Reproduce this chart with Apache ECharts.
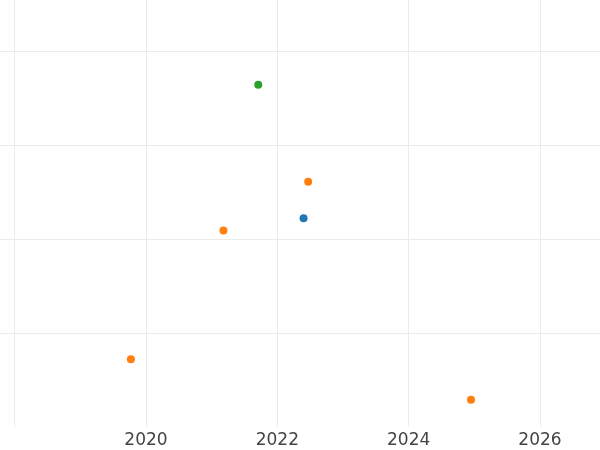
<!DOCTYPE html>
<html>
<head>
<meta charset="utf-8">
<script src="https://cdn.jsdelivr.net/npm/echarts@6/dist/echarts.min.js"></script>
<style>html,body{margin:0;padding:0;background:#fff}#c{width:600px;height:450px}</style>
</head>
<body>
<div id="c"></div>
<script>
// Data (x = decimal year, y = value)
const blueX = [2022.40];
const blueY = [2.22];
const orangeX = [2019.77, 2021.18, 2022.47, 2024.95];
const orangeY = [0.72, 2.09, 2.61, 0.29];
const greenX = [2021.71];
const greenY = [3.64];
const tickYears = [2020, 2022, 2024, 2026];

const colors = ['#1f77b4', '#ff7f0e', '#2ca02c'];
function pts(xs, ys) { return xs.map((x, i) => [x, ys[i]]); }

const chart = echarts.init(document.getElementById('c'), null, {renderer: 'canvas'});
chart.setOption({
  animation: false,
  backgroundColor: '#ffffff',
  grid: {left: 0, right: 0, top: 0, bottom: 23, containLabel: false},
  xAxis: {
    type: 'value',
    min: 2017.777,
    max: 2026.914,
    axisLine: {show: false},
    axisTick: {show: false},
    axisLabel: {
      show: true,
      margin: 5,
      color: '#444444',
      fontFamily: 'DejaVu Sans',
      fontSize: 17,
      showMinLabel: false,
      showMaxLabel: false,
      formatter: v => tickYears.indexOf(Math.round(v * 1000) / 1000) >= 0 ? String(v) : ''
    },
    splitLine: {show: true, showMinLine: false, showMaxLine: false, lineStyle: {color: '#ebebeb', width: 1}}
  },
  yAxis: {
    type: 'value',
    min: 0,
    max: 4.543,
    interval: 1,
    axisLine: {show: false},
    axisTick: {show: false},
    axisLabel: {show: false},
    splitLine: {show: true, showMinLine: false, showMaxLine: false, lineStyle: {color: '#ebebeb', width: 1}}
  },
  series: [
    {type: 'scatter', data: pts(blueX, blueY), symbolSize: 8, itemStyle: {color: colors[0], opacity: 1}},
    {type: 'scatter', data: pts(orangeX, orangeY), symbolSize: 8, itemStyle: {color: colors[1], opacity: 1}},
    {type: 'scatter', data: pts(greenX, greenY), symbolSize: 8, itemStyle: {color: colors[2], opacity: 1}}
  ]
});
</script>
</body>
</html>
